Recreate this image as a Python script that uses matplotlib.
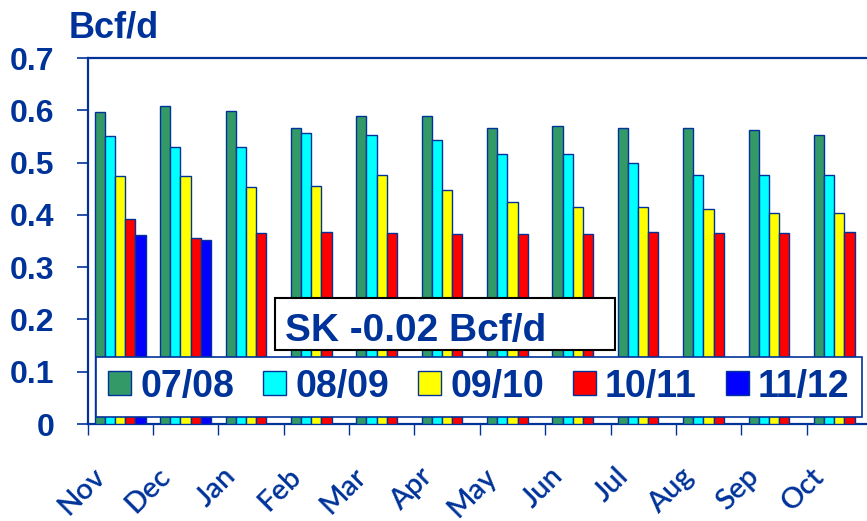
import matplotlib
matplotlib.use("Agg")
import matplotlib.pyplot as plt
import matplotlib.transforms as mtransforms
from matplotlib.patches import Rectangle
import numpy as np

months = ["Nov", "Dec", "Jan", "Feb", "Mar", "Apr", "May", "Jun", "Jul", "Aug", "Sep", "Oct"]
s0708 = [0.596, 0.608, 0.598, 0.567, 0.589, 0.589, 0.566, 0.570, 0.567, 0.567, 0.562, 0.553]
s0809 = [0.550, 0.530, 0.530, 0.557, 0.553, 0.544, 0.516, 0.516, 0.500, 0.476, 0.476, 0.476]
s0910 = [0.474, 0.474, 0.454, 0.456, 0.476, 0.448, 0.424, 0.415, 0.415, 0.411, 0.404, 0.404]
s1011 = [0.393, 0.356, 0.365, 0.367, 0.365, 0.363, 0.363, 0.363, 0.367, 0.365, 0.365, 0.367]
s1112 = [0.361, 0.352]
series_labels = ["07/08", "08/09", "09/10", "10/11", "11/12"]
series_colors = ["#339966", "#00FFFF", "#FFFF00", "#FF0000", "#0000FF"]
ytick_vals = [0, 0.1, 0.2, 0.3, 0.4, 0.5, 0.6, 0.7]
ytick_labels = ["0", "0.1", "0.2", "0.3", "0.4", "0.5", "0.6", "0.7"]
annotation = "SK -0.02 Bcf/d"
unit_label = "Bcf/d"

navy = "#003399"
plt.rcParams['font.family'] = ['Liberation Sans', 'DejaVu Sans']

fig = plt.figure(figsize=(8.67, 5.21), dpi=100)
ax = fig.add_axes([87.5/867, 1-424/521, 784.5/867, 366/521])

data = [s0708, s0809, s0910, s1011, s1112]
bw = 0.155
x = np.arange(len(months))
handles = []
for i, (vals, col, lab) in enumerate(zip(data, series_colors, series_labels)):
    xs = x[:len(vals)] + (i - 2) * bw
    h = ax.bar(xs, vals, width=bw, color=col, edgecolor=navy, linewidth=1.0, label=lab, zorder=3)
    handles.append(h)

ax.set_xlim(-0.5, len(months) - 0.5)
ax.set_ylim(0, 0.7)
ax.set_yticks(ytick_vals)
ax.set_yticklabels(ytick_labels, fontsize=23, fontweight='bold', color=navy)
ax.tick_params(axis='y', direction='out', length=8, width=1.2, color=navy, pad=16)

ax.set_xticks(np.arange(-0.5, len(months), 1.0))
ax.set_xticklabels([])
ax.tick_params(axis='x', which='major', direction='out', length=8, width=1.0, color=navy)
ax.set_xticks(x, minor=True)
ax.set_xticklabels(months, minor=True, rotation=45, ha='right', va='top',
                   fontsize=21, fontweight='semibold', color=navy,
                   family=['Lato', 'DejaVu Sans'])
ax.tick_params(axis='x', which='minor', length=0, pad=28)
offset = mtransforms.ScaledTranslation(-10/100, 0, fig.dpi_scale_trans)
for lbl in ax.get_xticklabels(minor=True):
    lbl.set_transform(lbl.get_transform() + offset)

for side in ['left', 'top', 'bottom', 'right']:
    ax.spines[side].set_color(navy)
    ax.spines[side].set_linewidth(1.6)

leg = fig.legend(handles=handles, labels=series_labels, loc='center',
                 bbox_to_anchor=(479/867, 1-386.5/521), ncol=5,
                 prop={'size': 27, 'weight': 'bold', 'family': 'Liberation Sans'},
                 frameon=True, fancybox=False, edgecolor=navy, framealpha=1,
                 handlelength=0.6, handleheight=0.6, handletextpad=0.25,
                 columnspacing=0.78, borderpad=0.32, borderaxespad=0)
leg.get_frame().set_linewidth(1.2)
for t in leg.get_texts():
    t.set_color(navy)

rect = Rectangle((275/867, 1-350/521), (615-275)/867, 52/521, transform=fig.transFigure,
                 facecolor='white', edgecolor='black', linewidth=1.5, zorder=6)
fig.patches.append(rect)
fig.text(285/867, 1-341/521, annotation, fontsize=28, fontweight='bold', color=navy,
         ha='left', va='baseline', zorder=7)

fig.text(69/867, 1-37.5/521, unit_label, fontsize=26, fontweight='bold', color=navy,
         ha='left', va='baseline')

fig.savefig("out.png", dpi=100)
